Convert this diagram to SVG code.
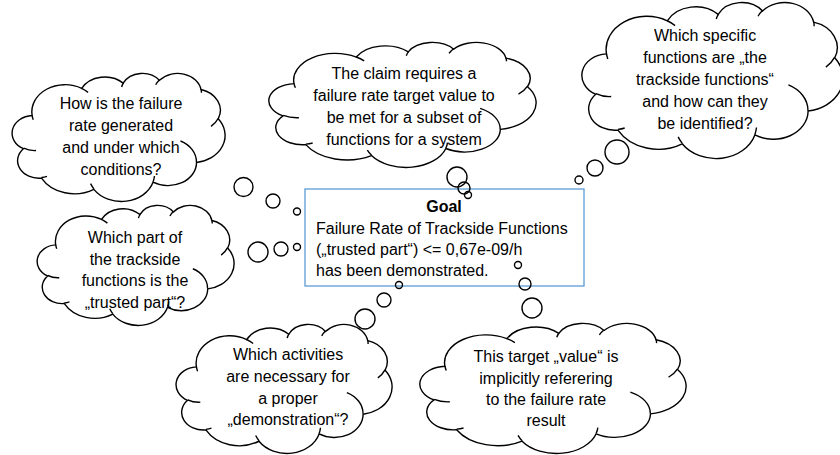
<svg xmlns="http://www.w3.org/2000/svg" width="840" height="455" viewBox="0 0 840 455">
<style>
.cl{fill:none;stroke:#000;stroke-width:1.4}
.cr{fill:none;stroke:#000;stroke-width:1.4}
.bb{fill:none;stroke:#000;stroke-width:1.4}
.t{font-family:"Liberation Sans",Arial,sans-serif;font-size:16px;fill:#000;text-anchor:middle}
.g{font-family:"Liberation Sans",Arial,sans-serif;font-size:16px;fill:#000}
</style>
<defs>
<path id="cloud" vector-effect="non-scaling-stroke" d="M9.03 33.26A15.63 21.27 0 0 1 32.42 12.04A12.34 16.82 0 0 1 51.98 7.94A10.10 13.76 0 0 1 69.06 5.74A11.24 15.27 0 0 1 88.70 12.91A12.34 16.84 0 0 1 96.80 35.79A15.68 21.34 0 0 1 86.58 69.91A13.39 18.21 0 0 1 66.10 85.22A15.63 21.33 0 0 1 38.15 90.89A17.87 24.41 0 0 1 13.44 82.11A10.09 13.70 0 0 1 4.89 59.14A10.06 13.76 0 0 1 9.03 33.26Z"/>
<path id="crease" vector-effect="non-scaling-stroke" d="M10.86 60.60A10.06 13.76 0 0 1 5.00 58.75M16.04 80.78A10.09 13.70 0 0 1 13.47 81.67M38.14 90.49A15.63 21.33 0 0 1 36.60 86.46M66.73 80.44A15.63 21.33 0 0 1 66.11 84.86M79.00 53.13A13.39 18.21 0 0 1 86.53 69.65M96.75 35.54A12.34 16.84 0 0 1 93.41 41.73M88.71 12.56A11.24 15.27 0 0 1 88.89 15.48M67.31 9.15A11.24 15.27 0 0 1 69.03 5.42M51.25 10.93A10.10 13.76 0 0 1 52.08 7.71M32.41 12.02A15.63 21.27 0 0 1 35.42 15.14M9.55 36.55A15.63 21.27 0 0 1 9.03 33.27"/>
</defs>

<g id="goal">
<rect x="305" y="189" width="279" height="97" fill="#fff" stroke="#5B9BD5" stroke-width="1.3"/>
<text class="g" x="444" y="212" text-anchor="middle" font-weight="bold">Goal</text>
<text class="g" x="316" y="233.5">Failure Rate of Trackside Functions</text>
<text class="g" x="316" y="254.5">(„trusted part“) &lt;= 0,67e-09/h</text>
<text class="g" x="316" y="275.5">has been demonstrated.</text>
</g>

<g id="cloud-how">
<g transform="translate(13 73) scale(2.12 1.28)"><use href="#cloud" class="cl"/><use href="#crease" class="cr"/></g>
<text class="t" x="121" y="108.5">How is the failure</text>
<text class="t" x="121" y="130.5">rate generated</text>
<text class="t" x="121" y="152.5">and under which</text>
<text class="t" x="121" y="174.5">conditions?</text>
</g>

<g id="cloud-claim">
<g transform="translate(270 42) scale(2.66 1.25)"><use href="#cloud" class="cl"/><use href="#crease" class="cr"/></g>
<text class="t" x="404" y="78.5">The claim requires a</text>
<text class="t" x="404" y="100.5">failure rate target value to</text>
<text class="t" x="404" y="122.5">be met for a subset of</text>
<text class="t" x="404" y="144.5">functions for a system</text>
</g>

<g id="cloud-specific">
<g transform="translate(583 2) scale(2.6 1.56)"><use href="#cloud" class="cl"/><use href="#crease" class="cr"/></g>
<text class="t" x="705" y="41">Which specific</text>
<text class="t" x="705" y="63">functions are „the</text>
<text class="t" x="705" y="85">trackside functions“</text>
<text class="t" x="705" y="107">and how can they</text>
<text class="t" x="705" y="129">be identified?</text>
</g>

<g id="cloud-part">
<g transform="translate(38 205) scale(1.96 1.2)"><use href="#cloud" class="cl"/><use href="#crease" class="cr"/></g>
<text class="t" x="135" y="242.5">Which part of</text>
<text class="t" x="135" y="264.5">the trackside</text>
<text class="t" x="135" y="286">functions is the</text>
<text class="t" x="135" y="307.5">„trusted part“?</text>
</g>

<g id="cloud-activities">
<g transform="translate(177 324) scale(2.15 1.29)"><use href="#cloud" class="cl"/><use href="#crease" class="cr"/></g>
<text class="t" x="288" y="360">Which activities</text>
<text class="t" x="288" y="382">are necessary for</text>
<text class="t" x="288" y="403.5">a proper</text>
<text class="t" x="288" y="424.5">„demonstration“?</text>
</g>

<g id="cloud-target">
<g transform="translate(421 323) scale(2.65 1.3)"><use href="#cloud" class="cl"/><use href="#crease" class="cr"/></g>
<text class="t" x="546" y="361.5">This target „value“ is</text>
<text class="t" x="546" y="383.5">implicitly referering</text>
<text class="t" x="546" y="404.5">to the failure rate</text>
<text class="t" x="546" y="425.5">result</text>
</g>

<g id="connectors">
<circle class="bb" cx="243.5" cy="187" r="9.5"/>
<circle class="bb" cx="273" cy="201" r="7"/>
<circle class="bb" cx="297" cy="211.5" r="3.5"/>
<circle class="bb" cx="258" cy="252" r="10"/>
<circle class="bb" cx="281" cy="249" r="7"/>
<circle class="bb" cx="297" cy="247" r="3.5"/>
<circle class="bb" cx="457" cy="177" r="10"/>
<circle class="bb" cx="464" cy="188" r="6"/>
<circle class="bb" cx="468" cy="195" r="3.5"/>
<circle class="bb" cx="617" cy="152" r="12"/>
<circle class="bb" cx="595" cy="168" r="8"/>
<circle class="bb" cx="579" cy="180" r="4"/>
<circle class="bb" cx="399" cy="285" r="3.5"/>
<circle class="bb" cx="384" cy="300" r="7"/>
<circle class="bb" cx="365" cy="319" r="10"/>
<circle class="bb" cx="518" cy="265" r="3.5"/>
<circle class="bb" cx="525" cy="284" r="6"/>
<circle class="bb" cx="532" cy="308" r="10"/>
</g>
</svg>
